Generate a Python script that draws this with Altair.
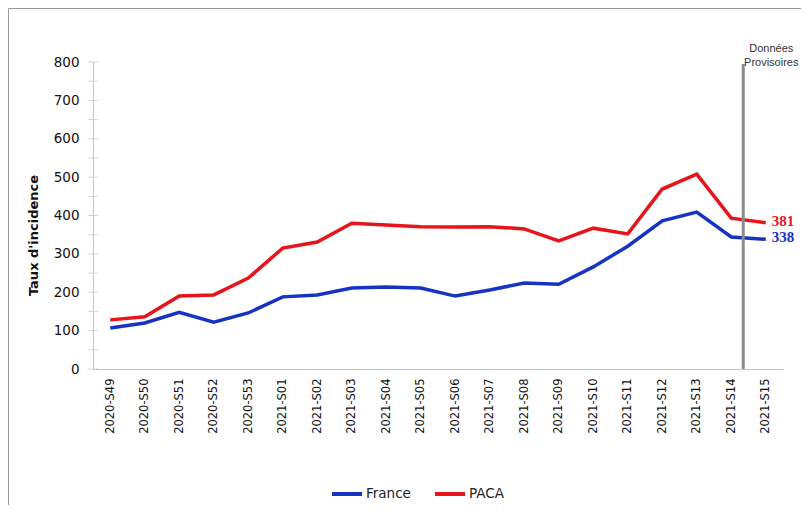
import altair as alt
import pandas as pd

# Weekly incidence rates (per 100k)
weeks = ['2020-S49', '2020-S50', '2020-S51', '2020-S52', '2020-S53',
         '2021-S01', '2021-S02', '2021-S03', '2021-S04', '2021-S05',
         '2021-S06', '2021-S07', '2021-S08', '2021-S09', '2021-S10',
         '2021-S11', '2021-S12', '2021-S13', '2021-S14', '2021-S15']
france = [107, 120, 148, 122, 146, 188, 193, 211, 214, 211,
          190, 206, 224, 221, 266, 320, 386, 409, 344, 338]
paca = [128, 136, 190, 193, 237, 315, 331, 380, 375, 371,
        370, 371, 365, 334, 367, 352, 469, 508, 393, 381]
series = ['France', 'PACA']
colors = ['#1733c4', '#e8141c']
y_labels = [0, 100, 200, 300, 400, 500, 600, 700, 800]
y_ticks = [0, 50, 100, 150, 200, 250, 300, 350, 400, 450,
           500, 550, 600, 650, 700, 750, 800]
provisional_week = '2021-S14'

df = pd.concat([
    pd.DataFrame({'week': weeks, 'taux': france, 'zone': 'France'}),
    pd.DataFrame({'week': weeks, 'taux': paca, 'zone': 'PACA'}),
])
last = df[df['week'] == weeks[-1]].copy()

font = 'DejaVu Sans'
axis_grey = '#c4c4c4'

x_enc = alt.X('week:O', sort=weeks, title=None,
              scale=alt.Scale(type='point', padding=0.5),
              axis=alt.Axis(labelAngle=-90, ticks=False, domainColor=axis_grey,
                            labelPadding=9, labelFontSize=11.5, labelColor='#111',
                            labelFont=font))
y_enc = alt.Y('taux:Q', title="Taux d'incidence",
              scale=alt.Scale(domain=[0, 800], nice=False),
              axis=alt.Axis(values=y_labels, tickCount=len(y_labels), grid=False,
                            ticks=False, labelOverlap=False,
                            domainColor=axis_grey, labelPadding=14,
                            labelFontSize=13.5, labelColor='#111',
                            labelFont=font, titleFont=font, titleFontSize=13,
                            titleFontWeight='bold', titleColor='#111',
                            titleAngle=-90, titleX=-60, titleY=173,
                            titleAlign='center', titleBaseline='middle'))
color_enc = alt.Color('zone:N', scale=alt.Scale(domain=series, range=colors),
                      legend=alt.Legend(title=None, orient='none', direction='horizontal',
                                        legendX=237, legendY=415,
                                        symbolType='stroke', symbolSize=900,
                                        symbolStrokeWidth=4, labelFont=font,
                                        labelFontSize=13.5, labelColor='#222',
                                        labelOffset=2, columnPadding=16))

lines = alt.Chart(df).mark_line(strokeWidth=3.5).encode(
    x=x_enc, y=y_enc, color=color_enc
)

# tick marks crossing the y axis line every 50
ticks = alt.Chart(pd.DataFrame({'taux': y_ticks})).mark_tick(
    color=axis_grey, thickness=1, size=10
).encode(
    y=alt.Y('taux:Q'),
    x=alt.value(0)
)

end_labels = alt.Chart(last).mark_text(
    align='left', baseline='middle', dx=6, dy=-2,
    font='Liberation Serif', fontWeight='bold', fontSize=15
).encode(
    x=alt.X('week:O', sort=weeks),
    y=alt.Y('taux:Q'),
    text='taux:Q',
    color=alt.Color('zone:N', legend=None)
)

rule = alt.Chart(pd.DataFrame({'week': [provisional_week]})).mark_rule(
    color='#8a8a8a', strokeWidth=3, xOffset=12
).encode(
    x=alt.X('week:O', sort=weeks),
    y=alt.datum(795),
    y2=alt.datum(0)
)

note = alt.Chart(pd.DataFrame({'week': [provisional_week],
                               'txt': ['Données\nProvisoires']})).mark_text(
    lineBreak='\n', align='center', baseline='bottom', dx=40, dy=-8,
    font='Liberation Sans', fontSize=11, lineHeight=14, color='#333'
).encode(
    x=alt.X('week:O', sort=weeks),
    y=alt.datum(800),
    text='txt:N'
)

# light grey frame around the whole figure
frame = alt.Chart(pd.DataFrame({'a': [0]})).mark_rect(
    fillOpacity=0, stroke='#9a9a9a', strokeWidth=1
).encode(
    x=alt.value(-84.5), x2=alt.value(730),
    y=alt.value(-53.5), y2=alt.value(470)
)

chart = alt.layer(lines, frame, ticks, rule, end_labels, note).properties(
    width=690,
    height=307,
    autosize=alt.AutoSizeParams(type='none'),
    padding={'left': 85, 'top': 54, 'right': 18, 'bottom': 136},
    background='white'
).configure_view(
    stroke=None
).configure_axis(
    labelOverlap=False
)

chart.save("out.html", embed_options={"renderer": "svg", "actions": False})
